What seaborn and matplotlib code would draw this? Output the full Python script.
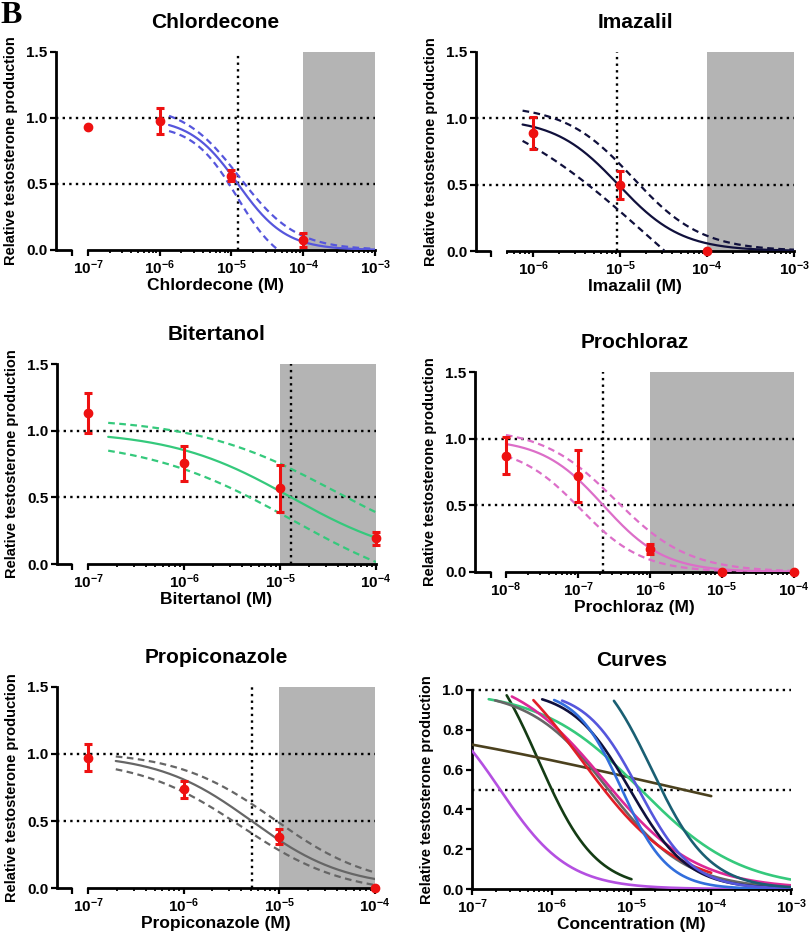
import numpy as np
import seaborn as sns
import matplotlib
matplotlib.use("Agg")
import matplotlib.pyplot as plt
from matplotlib.ticker import FixedLocator, NullFormatter

# ---- values ----
# measured points: dose (M), mean relative testosterone production, error
chl_dose = [1e-7, 1e-6, 1e-5, 1e-4]
chl_mean = [0.935, 0.978, 0.564, 0.075]
chl_err = [0.0, 0.10, 0.044, 0.05]

ima_dose = [1e-6, 1e-5, 1e-4]
ima_mean = [0.889, 0.495, 0.0]
ima_err = [0.12, 0.105, 0.0]

bit_dose = [1e-7, 1e-6, 1e-5, 1e-4]
bit_mean = [1.13, 0.755, 0.568, 0.193]
bit_err = [0.15, 0.13, 0.175, 0.05]

pro_dose = [1e-8, 1e-7, 1e-6, 1e-5, 1e-4]
pro_mean = [0.873, 0.723, 0.173, 0.0, 0.0]
pro_err = [0.14, 0.195, 0.038, 0.0, 0.0]

ppz_dose = [1e-7, 1e-6, 1e-5, 1e-4]
ppz_mean = [0.972, 0.736, 0.383, 0.0]
ppz_err = [0.10, 0.063, 0.055, 0.0]

# fitted dose-response curves: (top, bottom, log10 IC50, hill slope)
# order: best fit, upper 95% band, lower 95% band
chl_fit = [(1.0, 0.0, -4.91, 1.3), (1.1, 0.0, -4.886, 1.1), (0.95, -0.15, -4.92, 1.4)]
ima_fit = [(1.0, 0.0, -5.02, 1.19), (1.1, 0.0, -4.85, 1.1), (1.25, -1.0, -4.7, 0.45)]
bit_fit = [(1.0, 0.0, -4.885, 0.69), (1.1, 0.0, -4.44, 0.6), (0.95, -0.3, -4.86, 0.55)]
pro_fit = [(1.0, 0.0, -6.648, 1.02), (1.08, 0.0, -6.48, 0.85), (0.95, 0.0, -6.97, 1.0)]
ppz_fit = [(1.0, 0.0, -5.29, 0.886), (1.02, 0.0, -5.05, 0.85), (0.97, -0.05, -5.40, 0.8)]

# log10 range over which each fit is drawn
chl_range = (-5.87, -3.0)
ima_range = (-6.12, -3.0)
bit_range = (-6.79, -4.0)
pro_range = (-8.0, -4.0)
ppz_range = (-6.71, -4.0)

# IC50 marker lines and grey (cytotoxic) dose ranges
chl_ic50, chl_shade = 10 ** -4.91, (1e-4, 1e-3)
ima_ic50, ima_shade = 10 ** -5.03, (1e-4, 1e-3)
bit_ic50, bit_shade = 10 ** -4.885, (1e-5, 1e-4)
pro_ic50, pro_shade = 10 ** -6.648, (1e-6, 1e-4)
ppz_ic50, ppz_shade = 10 ** -5.29, (1e-5, 1e-4)

# "Curves" panel: overlay of all fitted curves
curve_colors = ["#b450e1", "#143c14", "#4b411e", "#35c97c", "#666666", "#dc2896",
                "#e11e28", "#10103c", "#326edc", "#5656dc", "#1a5f73"]
curve_params = [(1.0, 0.0, -6.648, 1.02), (1.3, 0.0, -6.17, 1.2), (1.0, 0.0, -4.36, 0.16),
                (1.0, 0.0, -4.885, 0.69), (1.0, 0.0, -5.29, 0.886), (1.1, 0.0, -5.35, 0.75),
                (1.3, 0.0, -5.63, 0.72), (1.0, 0.0, -5.02, 1.19), (1.0, 0.0, -5.12, 1.5),
                (1.0, 0.0, -4.91, 1.3), (1.2, 0.0, -4.745, 1.2)]
curve_start = [-7.0, -6.565, -7.0, -6.79, -6.71, -6.5, -6.23, -6.12, -5.97, -5.87, -5.22]
curve_end = [-3.0, -5.0, -4.0, -3.0, -3.0, -3.0, -4.0, -3.0, -3.0, -3.0, -3.0]

RED = "#ee1111"
SHADE = "#b4b4b4"
DOT = (0, (1, 1.8))

sns.set_style("ticks", rc={"axes.edgecolor": "black", "xtick.color": "black",
                           "ytick.color": "black", "text.color": "black",
                           "axes.labelcolor": "black"})
plt.rcParams["font.family"] = ["Liberation Sans", "DejaVu Sans"]
plt.rcParams["font.weight"] = "bold"
plt.rcParams["axes.labelweight"] = "bold"
plt.rcParams["axes.titleweight"] = "bold"
plt.rcParams["mathtext.fontset"] = "custom"
plt.rcParams["mathtext.rm"] = "Liberation Sans:bold"
plt.rcParams["mathtext.it"] = "Liberation Sans:bold"
plt.rcParams["mathtext.bf"] = "Liberation Sans:bold"


def logistic(x, top, bottom, logc, slope):
    return bottom + (top - bottom) / (1 + 10 ** ((np.log10(x) - logc) * slope))


def draw_curve(ax, p, lo, hi, color, dashed=False, lw=1.6):
    x = np.logspace(lo, hi, 300)
    y = logistic(x, *p)
    keep = y >= 0
    ls = (0, (3, 2)) if dashed else "-"
    sns.lineplot(x=x[keep], y=y[keep], ax=ax, color=color, lw=lw, linestyle=ls,
                 estimator=None, errorbar=None, sort=False, zorder=3)


def style_axes(ax, left, brk, start, end, ymax, yticks):
    ax.set_xscale("log")
    ax.set_xlim(left, end)
    ax.set_ylim(0, ymax)
    ax.spines["top"].set_visible(False)
    ax.spines["right"].set_visible(False)
    ax.spines["left"].set_linewidth(2)
    ax.spines["bottom"].set_linewidth(2)
    ax.spines["bottom"].set_bounds(start, end)
    lo_e = int(np.ceil(np.log10(start) - 1e-9))
    hi_e = int(np.floor(np.log10(end) + 1e-9))
    decades = [10.0 ** e for e in range(lo_e, hi_e + 1)]
    ax.set_xticks(decades)
    ax.set_xticklabels([f"$10^{{{e}}}$" for e in range(lo_e, hi_e + 1)])
    minors = [k * 10.0 ** e for e in range(lo_e - 1, hi_e + 1) for k in range(2, 10)]
    minors = [m for m in minors if start * 0.999 <= m <= end * 1.001]
    ax.xaxis.set_minor_locator(FixedLocator(minors))
    ax.xaxis.set_minor_formatter(NullFormatter())
    ax.set_yticks(yticks)
    ax.set_yticklabels([f"{v:.1f}" for v in yticks])
    ax.tick_params(which="major", length=4.5, width=1.6, labelsize=11, pad=1.5)
    ax.tick_params(axis="x", which="minor", length=2.5, width=1.3)
    if brk is not None:
        tr = ax.get_xaxis_transform()
        ax.plot([left, brk], [0, 0], transform=tr, color="k", lw=2,
                clip_on=False, solid_capstyle="butt")
        ax.plot([brk, brk], [0, -0.032], transform=tr, color="k", lw=1.6,
                clip_on=False, solid_capstyle="butt")


def label_axes(ax, title, xlabel):
    ax.set_title(title, fontsize=15, pad=17)
    ax.set_xlabel(xlabel, fontsize=12.5, labelpad=1)
    ax.set_ylabel("Relative testosterone production", fontsize=10.5)
    ax.yaxis.set_label_coords(-0.12, 0.5)


def ref_lines(ax, levels):
    for yv in levels:
        ax.axhline(yv, color="k", lw=1.7, ls=DOT, zorder=1, clip_on=False)


def data_panel(ax, dose, mean, err, fits, rng, color, ic50, shade):
    ax.axvspan(shade[0], shade[1], color=SHADE, lw=0, zorder=0)
    ref_lines(ax, (1.0, 0.5))
    ax.axvline(ic50, color="k", lw=1.7, ls=DOT, zorder=1)
    draw_curve(ax, fits[0], rng[0], rng[1], color)
    draw_curve(ax, fits[1], rng[0], rng[1], color, dashed=True)
    draw_curve(ax, fits[2], rng[0], rng[1], color, dashed=True)
    eb = ax.errorbar(dose, mean, yerr=err, fmt="o", color=RED, ms=6, capsize=3.2,
                     elinewidth=2.2, capthick=2.2, zorder=5)
    for art in [eb[0], *eb[1], *eb[2]]:
        art.set_clip_on(False)


fig = plt.figure(figsize=(8.1, 9.38), dpi=100)

# axes rectangles [left, bottom, width, height] in figure fraction
rects = [[0.0691, 0.7335, 0.3938, 0.2111], [0.5877, 0.7324, 0.3926, 0.2122],
         [0.0704, 0.3987, 0.3938, 0.2132], [0.5864, 0.3902, 0.3938, 0.2132],
         [0.0704, 0.0533, 0.3926, 0.2143], [0.5827, 0.0522, 0.3938, 0.2122]]
axes = [fig.add_axes(r) for r in rects]
yt15 = [0.0, 0.5, 1.0, 1.5]

ax = axes[0]
style_axes(ax, 10 ** -7.446, 10 ** -7.223, 1e-7, 1e-3, 1.5, yt15)
data_panel(ax, chl_dose, chl_mean, chl_err, chl_fit, chl_range, "#5656dc", chl_ic50, chl_shade)
label_axes(ax, "Chlordecone", "Chlordecone (M)")

ax = axes[1]
style_axes(ax, 10 ** -6.655, 10 ** -6.483, 5e-7, 1e-3, 1.5, yt15)
data_panel(ax, ima_dose, ima_mean, ima_err, ima_fit, ima_range, "#10103c", ima_ic50, ima_shade)
label_axes(ax, "Imazalil", "Imazalil (M)")

ax = axes[2]
style_axes(ax, 10 ** -7.323, 10 ** -7.167, 1e-7, 1e-4, 1.5, yt15)
data_panel(ax, bit_dose, bit_mean, bit_err, bit_fit, bit_range, "#35c97c", bit_ic50, bit_shade)
label_axes(ax, "Bitertanol", "Bitertanol (M)")

ax = axes[3]
style_axes(ax, 10 ** -8.43, 10 ** -8.21, 1e-8, 1e-4, 1.5, yt15)
data_panel(ax, pro_dose, pro_mean, pro_err, pro_fit, pro_range, "#dc6ec8", pro_ic50, pro_shade)
label_axes(ax, "Prochloraz", "Prochloraz (M)")

ax = axes[4]
style_axes(ax, 10 ** -7.324, 10 ** -7.167, 1e-7, 1e-4, 1.5, yt15)
data_panel(ax, ppz_dose, ppz_mean, ppz_err, ppz_fit, ppz_range, "#666666", ppz_ic50, ppz_shade)
label_axes(ax, "Propiconazole", "Propiconazole (M)")

ax = axes[5]
style_axes(ax, 1e-7, None, 1e-7, 1e-3, 1.0, [0.0, 0.2, 0.4, 0.6, 0.8, 1.0])
ref_lines(ax, (1.0, 0.5))
for c, p, lo, hi in zip(curve_colors, curve_params, curve_start, curve_end):
    draw_curve(ax, p, lo, hi, c, lw=1.9)
label_axes(ax, "Curves", "Concentration (M)")

fig.text(0.001, 0.9755, "B", family="Liberation Serif", weight="bold", fontsize=23,
         ha="left", va="baseline")

fig.savefig("out.png", dpi=100)
